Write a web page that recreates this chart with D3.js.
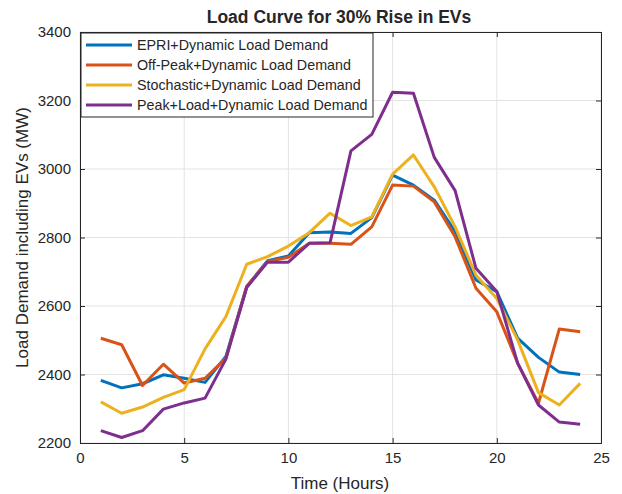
<!DOCTYPE html>
<html>
<head>
<meta charset="utf-8">
<script src="https://cdn.jsdelivr.net/npm/d3@7"></script>
<style>
body { margin: 0; background: #fff; }
text { font-family: "Liberation Sans", Arial, sans-serif; fill: #262626; }
</style>
</head>
<body>
<script>
var width = 622, height = 494;
var margin = {left: 80, right: 21, top: 32, bottom: 51};

var hours = d3.range(1, 25);
var epri = [2383,2361,2373,2399,2389,2377,2453,2657,2732,2746,2814,2816,2812,2858,2982,2953,2909,2817,2676,2642,2506,2450,2407,2400];
var offPeak = [2506,2487,2368,2430,2375,2389,2448,2657,2730,2742,2783,2783,2780,2831,2953,2950,2904,2802,2652,2583,2433,2316,2533,2525];
var stochastic = [2320,2287,2305,2333,2356,2475,2569,2722,2744,2775,2814,2871,2835,2860,2985,3041,2948,2831,2690,2622,2501,2347,2311,2374];
var peakLoad = [2236,2216,2236,2299,2317,2331,2445,2654,2728,2728,2783,2785,3053,3101,3224,3221,3034,2937,2710,2642,2433,2311,2261,2255];
var seriesNames = ["EPRI+Dynamic Load Demand","Off-Peak+Dynamic Load Demand","Stochastic+Dynamic Load Demand","Peak+Load+Dynamic Load Demand"];
var colors = ["#0072BD","#D95319","#EDB120","#7E2F8E"];
var xTicks = [0,5,10,15,20,25];
var yTicks = [2200,2400,2600,2800,3000,3200,3400];

var series = [epri, offPeak, stochastic, peakLoad];

var svg = d3.select("body").append("svg")
    .attr("width", width)
    .attr("height", height);

var x = d3.scaleLinear().domain([0,25]).range([margin.left, width - margin.right]);
var y = d3.scaleLinear().domain([2200,3400]).range([height - margin.bottom, margin.top]);

// grid
svg.append("g").selectAll("line").data(xTicks).enter().append("line")
    .attr("x1", d => x(d)).attr("x2", d => x(d))
    .attr("y1", y(2200)).attr("y2", y(3400))
    .attr("stroke", "#e3e3e3").attr("stroke-width", 1);
svg.append("g").selectAll("line").data(yTicks).enter().append("line")
    .attr("x1", x(0)).attr("x2", x(25))
    .attr("y1", d => y(d)).attr("y2", d => y(d))
    .attr("stroke", "#e3e3e3").attr("stroke-width", 1);

// lines
var line = d3.line().x((d,i) => x(hours[i])).y(d => y(d));
series.forEach(function(s, k){
    svg.append("path")
        .datum(s)
        .attr("d", line)
        .attr("fill", "none")
        .attr("stroke", colors[k])
        .attr("stroke-width", 3)
        .attr("stroke-linejoin", "round");
});

// axes, ticks inward like matlab
svg.append("g").attr("transform", "translate(0," + y(2200) + ")")
    .call(d3.axisBottom(x).tickValues(xTicks).tickSize(-5).tickPadding(9));
svg.append("g").attr("transform", "translate(" + x(0) + ",0)")
    .call(d3.axisLeft(y).tickValues(yTicks).tickSize(-5).tickPadding(9).tickFormat(d3.format("d")));
svg.append("g").attr("transform", "translate(0," + y(3400) + ")")
    .call(d3.axisTop(x).tickValues(xTicks).tickSize(-5).tickFormat(""));
svg.append("g").attr("transform", "translate(" + x(25) + ",0)")
    .call(d3.axisRight(y).tickValues(yTicks).tickSize(-5).tickFormat(""));
svg.selectAll(".domain, .tick line").attr("stroke", "#262626");
svg.selectAll(".tick text").style("font-size", "15px").attr("fill", "#262626");

// title and labels
svg.append("text").attr("x", 339).attr("y", 23).attr("text-anchor", "middle")
    .style("font-size", "17.5px").style("font-weight", "bold").attr("fill", "#000")
    .text("Load Curve for 30% Rise in EVs");
svg.append("text").attr("x", 340).attr("y", 489).attr("text-anchor", "middle")
    .style("font-size", "17px").text("Time (Hours)");
svg.append("text").attr("transform", "translate(28," + ((y(2200) + y(3400)) / 2) + ") rotate(-90)")
    .attr("text-anchor", "middle").style("font-size", "17px")
    .text("Load Demand including EVs (MW)");

// legend
var lg = svg.append("g").attr("transform", "translate(81,33)");
lg.append("rect").attr("width", 292).attr("height", 84)
    .attr("fill", "#fff").attr("stroke", "#262626").attr("stroke-width", 1);
seriesNames.forEach(function(n, k){
    var yy = 12 + k * 20;
    lg.append("line").attr("x1", 5).attr("x2", 51).attr("y1", yy).attr("y2", yy)
        .attr("stroke", colors[k]).attr("stroke-width", 3);
    lg.append("text").attr("x", 56).attr("y", yy + 5).style("font-size", "14.3px").text(n);
});
</script>
</body>
</html>
